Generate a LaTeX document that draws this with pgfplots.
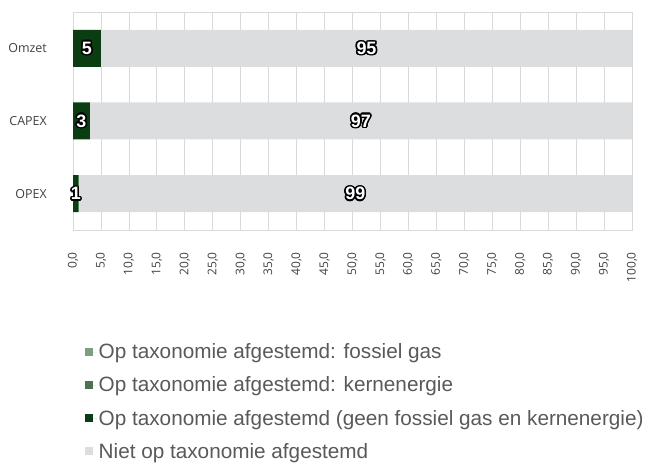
\documentclass[border=0pt]{standalone}
\usepackage{pgfplots}
\pgfplotsset{compat=1.18}
\usepackage{fontspec}
\setmainfont{Liberation Sans}
\newfontfamily\osans{Open Sans}
\definecolor{cfos}{HTML}{7E9E80}
\definecolor{ckern}{HTML}{4B7352}
\definecolor{cgeen}{HTML}{0B3D12}
\definecolor{cniet}{HTML}{DCDDDE}
\definecolor{cgrid}{HTML}{D9D9D9}
\definecolor{ctext}{HTML}{595959}
\definecolor{ctick}{HTML}{404040}
\def\oo#1#2{\rlap{\kern#1\raise#2\hbox{\color{black}\copy0}}}
\newcommand\outl[1]{\setbox0\hbox{#1}\leavevmode
 \oo{-1.5pt}{0pt}\oo{1.5pt}{0pt}\oo{0pt}{1.5pt}\oo{0pt}{-1.5pt}%
 \oo{-1.1pt}{1.1pt}\oo{1.1pt}{1.1pt}\oo{-1.1pt}{-1.1pt}\oo{1.1pt}{-1.1pt}%
 \oo{-1.4pt}{0.6pt}\oo{1.4pt}{0.6pt}\oo{-1.4pt}{-0.6pt}\oo{1.4pt}{-0.6pt}%
 \oo{-0.6pt}{1.4pt}\oo{0.6pt}{1.4pt}\oo{-0.6pt}{-1.4pt}\oo{0.6pt}{-1.4pt}%
 \hbox{\color{white}\copy0}}
\begin{document}
\begin{tikzpicture}
\path[use as bounding box] (0,0) rectangle (652bp,473bp);
\begin{axis}[
  at={(73bp,243bp)}, anchor=south west,
  scale only axis, width=559bp, height=218bp,
  xbar stacked, bar width=37bp,
  xmin=0, xmax=100, ymin=-0.5, ymax=2.5,
  xtick={0,5,...,100},
  ytick={0,1,2}, yticklabels={OPEX,CAPEX,Omzet},
  major tick length=0pt,
  xmajorgrids, grid style={cgrid, line width=0.8pt},
  axis line style={cgrid, line width=0.8pt},
  /pgf/number format/assume math mode=true,
  /pgf/number format/.cd, fixed, fixed zerofill, precision=1, use comma, /pgfplots/.cd,
  xticklabel style={font=\osans\fontsize{12}{14}\selectfont, text=ctick, yshift=-22bp, rotate=90, anchor=east, inner sep=0pt},
  yticklabel style={font=\osans\fontsize{12.5}{14}\selectfont, text=ctick, anchor=east, inner sep=0pt, xshift=-26bp},
  legend cell align=left,
  legend image code/.code={\fill[#1] (0bp,-4bp) rectangle (8bp,4bp); \path (0bp,0bp) -- (12bp,0bp);},
  legend style={at={(axis description cs:0.0215,-0.515)}, anchor=north west, draw=none, fill=none,
    font=\fontsize{20.8}{24}\selectfont, text=ctext, row sep=13.5bp, inner sep=0pt,
    nodes={inner sep=1.5bp}},
]
\addplot[fill=cfos, draw=none] coordinates {(0,0) (0,1) (0,2)};
\addlegendentry{Op taxonomie afgestemd: fossiel gas}
\addplot[fill=ckern, draw=none] coordinates {(0,0) (0,1) (0,2)};
\addlegendentry{Op taxonomie afgestemd: kernenergie}
\addplot[fill=cgeen, draw=none] coordinates {(1,0) (3,1) (5,2)};
\addlegendentry{Op taxonomie afgestemd (geen fossiel gas en kernenergie)}
\addplot[fill=cniet, draw=none] coordinates {(99,0) (97,1) (95,2)};
\addlegendentry{Niet op taxonomie afgestemd}
\end{axis}
\begin{axis}[
  at={(73bp,243bp)}, anchor=south west,
  scale only axis, width=559bp, height=218bp,
  xmin=0, xmax=100, ymin=-0.5, ymax=2.5,
  hide axis,
  point meta=explicit symbolic,
  nodes near coords={\outl{\pgfplotspointmeta}},
  every node near coord/.append style={anchor=center, inner sep=0pt,
    font=\bfseries\fontsize{18}{20}\selectfont},
]
\addplot[draw=none, mark=none] coordinates {(2.5,2)[5] (1.5,1)[3] (0.5,0)[1]};
\addplot[draw=none, mark=none] coordinates {(52.5,2)[95] (51.5,1)[97] (50.5,0)[99]};
\end{axis}
\end{tikzpicture}
\end{document}
